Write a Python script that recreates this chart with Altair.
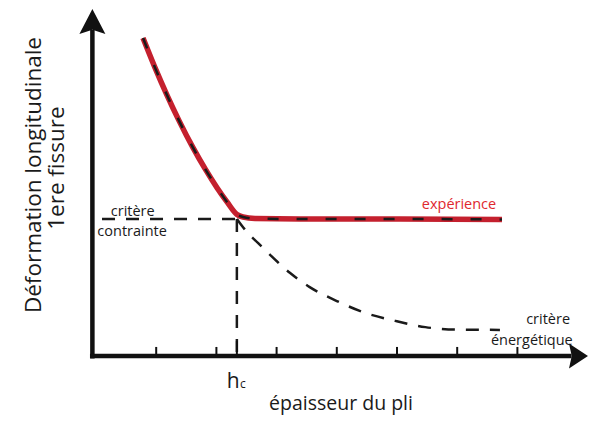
import altair as alt
import pandas as pd

# ---- data (abstract units: thickness on x, strain on y) ----
exp_x = [0.781, 0.980, 1.179, 1.379, 1.611, 1.811, 2.010, 2.176, 2.342, 2.442, 2.641, 3.389, 5.050, 6.744]
exp_y = [9.138, 8.287, 7.497, 6.764, 5.986, 5.382, 4.836, 4.428, 4.066, 3.994, 3.951, 3.937, 3.937, 3.923]

energy_x = [2.34, 2.51, 2.69, 2.86, 3.22, 3.55, 4.00, 4.47, 4.97, 5.47, 5.96, 6.71]
energy_y = [3.94, 3.56, 3.25, 2.96, 2.39, 1.98, 1.58, 1.24, 1.01, 0.83, 0.76, 0.75]

hc = 2.34
stress_level = 3.94
stress_start = 0.10

tick_x = [1, 2, 3, 4, 5, 6, 7]

# axis frame
yaxis_x = -0.06
yaxis_top = 9.37
xaxis_left = -0.10
xaxis_right = 7.90
arrow_x = [yaxis_x, 7.965]
arrow_y = [9.60, 0.0]

label_text = ["critère", "contrainte", "expérience", "critère", "énergétique",
              "h", "c", "épaisseur du pli", "Déformation longitudinale", "1ere fissure"]
label_x = [0.61, 0.60, 6.03, 7.51, 7.24, 2.28, 2.44, 4.07, -0.91, -0.53]
label_y = [4.02, 3.45, 4.22, 0.92, 0.32, -0.92, -0.92, -1.56, 5.20, 5.40]
label_size = [14.5, 14.5, 14.5, 14.5, 14.5, 21, 12, 19.5, 22.5, 22.5]
label_color = ["#1a1a1a", "#1a1a1a", "#e0282e", "#1a1a1a", "#1a1a1a",
               "#1a1a1a", "#1a1a1a", "#1a1a1a", "#1a1a1a", "#1a1a1a"]
label_angle = [0, 0, 0, 0, 0, 0, 0, 0, 270, 270]

# ---- chart ----
xs = alt.Scale(domain=[0, 8], nice=False, zero=False)
ys = alt.Scale(domain=[0, 10], nice=False, zero=False)
X = lambda f: alt.X(f, type="quantitative", scale=xs, axis=None)
Y = lambda f: alt.Y(f, type="quantitative", scale=ys, axis=None)

exp_df = pd.DataFrame({"x": exp_x, "y": exp_y, "i": range(len(exp_x))})
en_df = pd.DataFrame({"x": energy_x, "y": energy_y, "i": range(len(energy_x))})

red = alt.Chart(exp_df).mark_line(color="#c4202e", strokeWidth=5.5, strokeCap="butt",
                                  interpolate="monotone").encode(
    x=X("x"), y=Y("y"), order="i:O")
red_dash = alt.Chart(exp_df).mark_line(color="#1a1a1a", strokeWidth=2.5, strokeDash=[11, 18],
                                       interpolate="monotone").encode(
    x=X("x"), y=Y("y"), order="i:O")
energy = alt.Chart(en_df).mark_line(color="#1a1a1a", strokeWidth=2.5, strokeDash=[13, 11],
                                    interpolate="monotone").encode(
    x=X("x"), y=Y("y"), order="i:O")

hline = alt.Chart(pd.DataFrame({"x": [stress_start], "x2": [hc], "y": [stress_level]})).mark_rule(
    color="#1a1a1a", strokeWidth=2.5, strokeDash=[13, 11]).encode(x=X("x"), x2="x2", y=Y("y"))
vline = alt.Chart(pd.DataFrame({"x": [hc], "y": [stress_level], "y2": [0]})).mark_rule(
    color="#1a1a1a", strokeWidth=2.5, strokeDash=[13, 11]).encode(x=X("x"), y=Y("y"), y2="y2")

yaxis = alt.Chart(pd.DataFrame({"x": [yaxis_x], "y": [-0.07], "y2": [yaxis_top]})).mark_rule(
    color="#111111", strokeWidth=4.5).encode(x=X("x"), y=Y("y"), y2="y2")
xaxis = alt.Chart(pd.DataFrame({"x": [xaxis_left], "x2": [xaxis_right], "y": [0]})).mark_rule(
    color="#111111", strokeWidth=4.5).encode(x=X("x"), x2="x2", y=Y("y"))

ticks = alt.Chart(pd.DataFrame({"x": tick_x, "y": [0] * len(tick_x), "y2": [0.26] * len(tick_x)})).mark_rule(
    color="#111111", strokeWidth=2).encode(x=X("x"), y=Y("y"), y2="y2")
hc_tick = alt.Chart(pd.DataFrame({"x": [hc], "y": [0], "y2": [0.43]})).mark_rule(
    color="#111111", strokeWidth=2).encode(x=X("x"), y=Y("y"), y2="y2")

up_arrow = alt.Chart(pd.DataFrame({"x": [arrow_x[0]], "y": [arrow_y[0]]})).mark_point(
    shape="M0,-1L1,0.92L0,0.6L-1,0.92Z", size=676, filled=True, opacity=1,
    color="#111111", strokeWidth=0).encode(x=X("x"), y=Y("y"))
right_arrow = alt.Chart(pd.DataFrame({"x": [arrow_x[1]], "y": [arrow_y[1]]})).mark_point(
    shape="M1,0L-0.52,-1L-0.3,0L-0.52,1Z", size=625, filled=True, opacity=1,
    color="#111111", strokeWidth=0).encode(x=X("x"), y=Y("y"))

lab_df = pd.DataFrame({"t": label_text, "x": label_x, "y": label_y, "s": label_size,
                       "c": label_color, "a": label_angle})
labels = alt.Chart(lab_df).mark_text(font="Open Sans", align="center", baseline="alphabetic").encode(
    x=X("x"), y=Y("y"), text="t:N",
    size=alt.Size("s:Q", scale=None, legend=None),
    color=alt.Color("c:N", scale=None, legend=None),
    angle=alt.Angle("a:Q", scale=None))

chart = alt.layer(red, red_dash, energy, hline, vline, yaxis, xaxis, ticks, hc_tick,
                  up_arrow, right_arrow, labels).properties(
    width=481.6, height=348, autosize="none",
    padding={"left": 88, "top": 0, "right": 11, "bottom": 59},
    background="white"
).configure_view(stroke=None)

chart.save("out.html", embed_options={"renderer": "svg", "actions": False})
